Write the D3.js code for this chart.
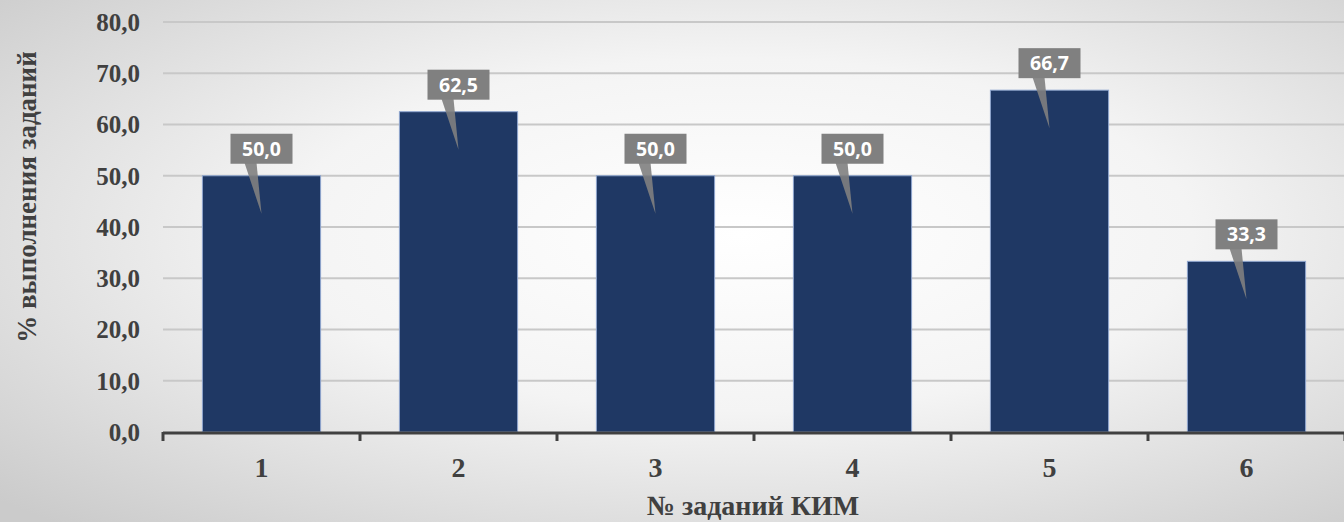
<!DOCTYPE html>
<html><head><meta charset="utf-8">
<script src="https://cdn.jsdelivr.net/npm/d3@7"></script>
<style>html,body{margin:0;padding:0;overflow:hidden;}svg{display:block;}</style>
</head><body>
<svg id="chart" width="1344" height="522"></svg>
<script>
const categories = ["1","2","3","4","5","6"];
const values = [50.0, 62.5, 50.0, 50.0, 66.7, 33.3];
const yTicks = [0,10,20,30,40,50,60,70,80];
const yTitle = "% выполнения заданий";
const xTitle = "№ заданий КИМ";

const W = 1344, H = 522;
const svg = d3.select("#chart");
const defs = svg.append("defs");
const rg = defs.append("radialGradient").attr("id","bg").attr("cx","55%").attr("cy","45%").attr("r","75%");
rg.append("stop").attr("offset","0%").attr("stop-color","#ffffff");
rg.append("stop").attr("offset","45%").attr("stop-color","#f4f4f4");
rg.append("stop").attr("offset","100%").attr("stop-color","#cbcbcb");
svg.append("rect").attr("width",W).attr("height",H).attr("fill","url(#bg)");

const m = {left:163, right:W+1, top:22, bottom:432};
const x = d3.scaleBand().domain(categories).range([m.left, m.right]).paddingInner(0.4).paddingOuter(0.2);
const y = d3.scaleLinear().domain([0,80]).range([m.bottom, m.top]);

// gridlines
svg.append("g").selectAll("line").data(yTicks.filter(d=>d>0)).join("line")
  .attr("x1", m.left).attr("x2", W).attr("y1", d=>y(d)).attr("y2", d=>y(d))
  .attr("stroke","#c8c8c8").attr("stroke-width",2);

// y labels
svg.append("g").selectAll("text").data(yTicks).join("text")
  .attr("x",140).attr("y",d=>y(d)).attr("dy","0.35em").attr("text-anchor","end")
  .attr("font-family","'Liberation Serif', 'Times New Roman', serif").attr("font-weight","bold")
  .attr("font-size",25).attr("fill","#404040").text(d=>d3.format(".1f")(d).replace(".",","));

// bars
svg.append("g").selectAll("rect").data(values).join("rect")
  .attr("x",(d,i)=>x(categories[i])).attr("width",x.bandwidth())
  .attr("y",d=>y(d)).attr("height",d=>y(0)-y(d))
  .attr("fill","#1f3864").attr("stroke","#8fa6cf").attr("stroke-width",1);

// axis
const step = x.step();
const bounds = d3.range(categories.length+1).map(i=>m.left + i*step);
const ax = svg.append("g");
ax.append("line").attr("x1",m.left).attr("x2",W).attr("y1",y(0)+1).attr("y2",y(0)+1)
  .attr("stroke","#404040").attr("stroke-width",3);
ax.selectAll("line.t").data(bounds).join("line").attr("class","t")
  .attr("x1",d=>d).attr("x2",d=>d).attr("y1",y(0)).attr("y2",y(0)+9)
  .attr("stroke","#404040").attr("stroke-width",3);
ax.selectAll("text").data(categories).join("text")
  .attr("x",d=>x(d)+x.bandwidth()/2).attr("y",477).attr("text-anchor","middle")
  .attr("font-family","'Liberation Serif', 'Times New Roman', serif").attr("font-weight","bold")
  .attr("font-size",28).attr("fill","#404040").text(d=>d);

// data labels with callouts
const lab = svg.append("g");
values.forEach((v,i)=>{
  const cx = x(categories[i]) + x.bandwidth()/2;
  const top = y(v);
  const bw = 62, bh = 30;
  const by = top - 12 - bh;
  lab.append("path")
    .attr("d",`M${cx-17},${by+bh-1} L${cx-5},${by+bh-1} L${cx},${top+38} Z`)
    .attr("fill","#808080").attr("opacity",0.9);
  lab.append("rect").attr("x",cx-bw/2).attr("y",by).attr("width",bw).attr("height",bh)
    .attr("fill","#808080");
  lab.append("text").attr("x",cx).attr("y",by+bh/2).attr("dy","0.36em").attr("text-anchor","middle")
    .attr("font-family","'Open Sans', 'Noto Sans', sans-serif").attr("font-weight","bold")
    .attr("font-size",19.5).attr("fill","#ffffff").text(v.toFixed(1).replace(".",","));
});

// titles
svg.append("text").attr("transform",`translate(36,${(m.top+m.bottom)/2-30}) rotate(-90)`)
  .attr("text-anchor","middle")
  .attr("font-family","'Liberation Serif', 'Times New Roman', serif").attr("font-weight","bold")
  .attr("font-size",27).attr("fill","#404040").text(yTitle);
svg.append("text").attr("x",753).attr("y",515).attr("text-anchor","middle")
  .attr("font-family","'Liberation Serif', 'Times New Roman', serif").attr("font-weight","bold")
  .attr("font-size",28).attr("fill","#404040").text(xTitle);
</script>
</body></html>
